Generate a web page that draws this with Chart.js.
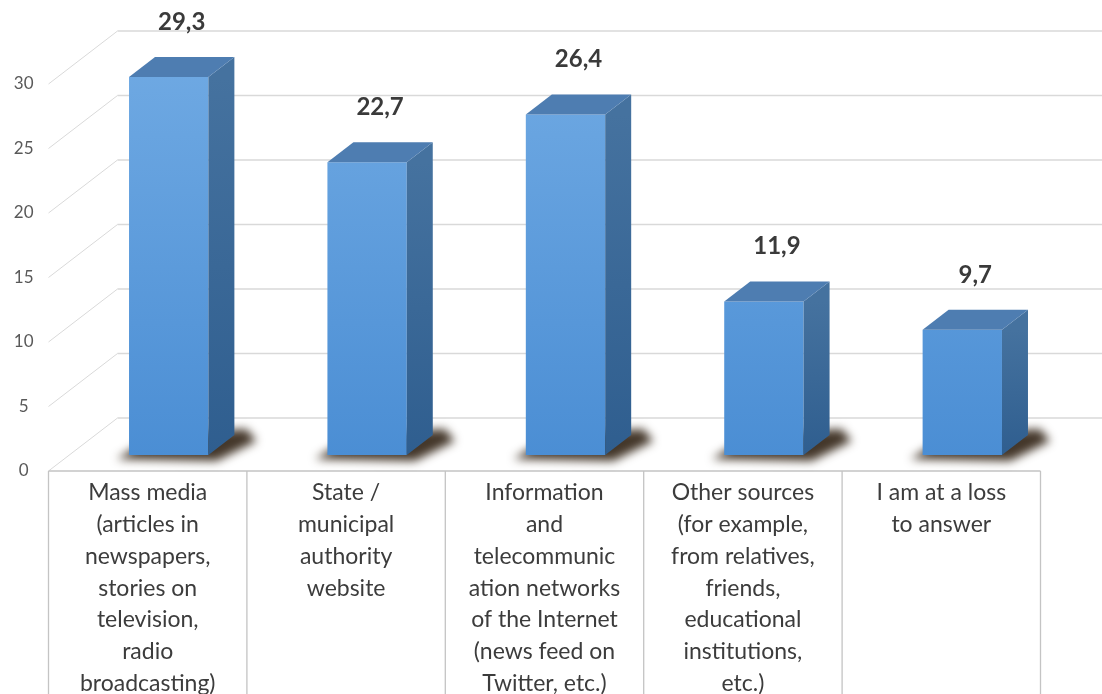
<!DOCTYPE html>
<html>
<head>
<meta charset="utf-8">
<script src="https://cdn.jsdelivr.net/npm/chart.js@4.4.1/dist/chart.umd.min.js"></script>
<style>
  html, body { margin: 0; padding: 0; background: #ffffff; }
  #wrap { width: 1102px; height: 694px; position: relative; }
</style>
</head>
<body>
<div id="wrap"><canvas id="chart"></canvas></div>
<script>
// Sources of information, share of respondents (%)
const categories = [
  ['Mass media', '(articles in', 'newspapers,', 'stories on', 'television,', 'radio', 'broadcasting)'],
  ['State /', 'municipal', 'authority', 'website'],
  ['Information', 'and', 'telecommunic', 'ation networks', 'of the Internet', '(news feed on', 'Twitter, etc.)'],
  ['Other sources', '(for example,', 'from relatives,', 'friends,', 'educational', 'institutions,', 'etc.)'],
  ['I am at a loss', 'to answer']
];
const shares = [29.3, 22.7, 26.4, 11.9, 9.7];
const yTicks = [0, 5, 10, 15, 20, 25, 30];

// 3D scene offsets, relative to the plane in which the bar fronts stand
const FRONT_DX = -21, FRONT_DY = 16;   // front edge of the floor / category table
const BACK_DX = 48, BACK_DY = -37;     // back wall
const BAR_DX = 26, BAR_DY = -20;       // depth of each column

const fmt = v => v.toFixed(1).replace('.', ',');

const scene3d = {
  id: 'scene3d',
  beforeDatasetsDraw(chart) {
    const { ctx, scales: { x, y }, width, height } = chart;
    ctx.save();

    // back wall gridlines and the diagonals of the side wall
    yTicks.forEach(v => {
      const py = y.getPixelForValue(v);
      ctx.strokeStyle = '#d9d9d9';
      ctx.lineWidth = 1.6;
      ctx.beginPath();
      ctx.moveTo(x.left + BACK_DX, py + BACK_DY);
      ctx.lineTo(width, py + BACK_DY);
      ctx.stroke();
      ctx.lineWidth = 1;
      ctx.beginPath();
      ctx.moveTo(x.left + FRONT_DX, py + FRONT_DY);
      ctx.lineTo(x.left + BACK_DX, py + BACK_DY);
      ctx.stroke();
    });

    // category table under the floor
    const top = y.getPixelForValue(0) + FRONT_DY;
    const step = (x.right - x.left) / categories.length;
    ctx.strokeStyle = '#c4c4c4';
    ctx.lineWidth = 1.3;
    ctx.beginPath();
    ctx.moveTo(x.left + FRONT_DX, top);
    ctx.lineTo(x.right + FRONT_DX, top);
    for (let i = 0; i <= categories.length; i++) {
      const px = x.left + FRONT_DX + i * step;
      ctx.moveTo(px, top);
      ctx.lineTo(px, height);
    }
    ctx.stroke();

    // soft floor shadows of the columns
    const meta = chart.getDatasetMeta(0);
    ctx.filter = 'blur(5px)';
    ctx.fillStyle = 'rgba(35,20,5,0.85)';
    meta.data.forEach(bar => {
      const l = bar.x - bar.width / 2, r = bar.x + bar.width / 2, b = bar.base;
      ctx.beginPath();
      ctx.moveTo(l - 12, b + 4);
      ctx.lineTo(r + 8, b + 6);
      ctx.lineTo(r + BAR_DX + 22, b + BAR_DY + 6);
      ctx.lineTo(r + BAR_DX + 12, b + BAR_DY - 6);
      ctx.lineTo(l + BAR_DX, b + BAR_DY);
      ctx.closePath();
      ctx.fill();
    });
    ctx.filter = 'none';
    ctx.restore();
  },
  afterDatasetsDraw(chart) {
    const { ctx } = chart;
    const meta = chart.getDatasetMeta(0);
    ctx.save();
    meta.data.forEach((bar, i) => {
      const l = bar.x - bar.width / 2, r = bar.x + bar.width / 2;
      const t = bar.y, b = bar.base;

      // right side face
      const sg = ctx.createLinearGradient(0, t, 0, b);
      sg.addColorStop(0, '#45729f');
      sg.addColorStop(1, '#2f5e8f');
      ctx.fillStyle = sg;
      ctx.beginPath();
      ctx.moveTo(r, t);
      ctx.lineTo(r + BAR_DX, t + BAR_DY);
      ctx.lineTo(r + BAR_DX, b + BAR_DY);
      ctx.lineTo(r, b);
      ctx.closePath();
      ctx.fill();

      // top face
      ctx.fillStyle = '#4e7db1';
      ctx.beginPath();
      ctx.moveTo(l, t);
      ctx.lineTo(l + BAR_DX, t + BAR_DY);
      ctx.lineTo(r + BAR_DX, t + BAR_DY);
      ctx.lineTo(r, t);
      ctx.closePath();
      ctx.fill();

      // value label
      ctx.font = 'bold 24px Lato';
      ctx.fillStyle = '#3a3a3a';
      ctx.textAlign = 'center';
      ctx.textBaseline = 'middle';
      ctx.fillText(fmt(shares[i]), bar.x + BAR_DX / 2, t - 55);
    });
    ctx.restore();
  }
};

new Chart(document.getElementById('chart'), {
  type: 'bar',
  data: {
    labels: categories,
    datasets: [{
      data: shares,
      barPercentage: 0.4,
      categoryPercentage: 1.0,
      borderWidth: 0,
      backgroundColor: (c) => {
        const area = c.chart.chartArea;
        if (!area) return '#5b9bd5';
        const g = c.chart.ctx.createLinearGradient(0, area.top, 0, area.bottom);
        g.addColorStop(0, '#74ade5');
        g.addColorStop(1, '#4b8ed4');
        return g;
      }
    }]
  },
  options: {
    responsive: true,
    maintainAspectRatio: false,
    animation: false,
    layout: { padding: { top: 3.5, right: 40.5, left: 0, bottom: 0 } },
    plugins: { legend: { display: false }, tooltip: { enabled: false } },
    scales: {
      x: {
        grid: { display: false, drawTicks: false },
        border: { display: false },
        ticks: {
          autoSkip: false,
          maxRotation: 0,
          minRotation: 0,
          padding: 22,
          labelOffset: FRONT_DX,
          color: '#3c3c3c',
          font: { family: 'Lato', size: 23, lineHeight: 1.38 }
        },
        afterFit: s => {
          s.height = 239;
          s.paddingLeft = 0;
          s.paddingRight = 0;
        }
      },
      y: {
        min: 0,
        max: 35,
        grid: { display: false, drawTicks: false },
        border: { display: false },
        afterBuildTicks: s => { s.ticks = yTicks.map(v => ({ value: v })); },
        ticks: {
          crossAlign: 'center',
          padding: 36,
          labelOffset: FRONT_DY,
          color: '#595959',
          font: { family: 'Lato', size: 17 }
        },
        afterFit: s => {
          s.width = 69.5;
          s.paddingTop = 0;
          s.paddingBottom = 0;
        }
      }
    }
  },
  plugins: [scene3d]
});
</script>
</body>
</html>
